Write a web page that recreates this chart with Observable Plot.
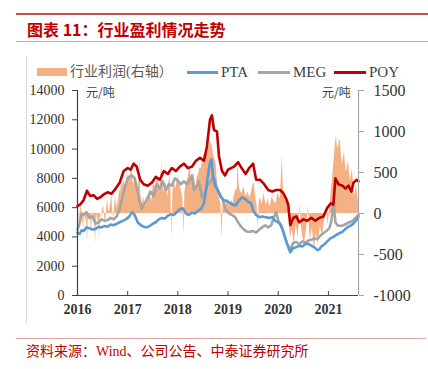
<!DOCTYPE html>
<html><head><meta charset="utf-8">
<script src="https://cdn.jsdelivr.net/npm/d3@7"></script>
<script src="https://cdn.jsdelivr.net/npm/@observablehq/plot@0.6"></script>
<style>
body{margin:0;background:#fff;}
#wrap{position:relative;width:428px;height:369px;overflow:hidden;font-family:"Liberation Serif","Noto Sans CJK SC",serif;}
.abs{position:absolute;white-space:nowrap;}
#chart{position:absolute;left:0;top:80px;}
</style></head><body>
<div id="wrap">
  <div class="abs" style="left:16px;top:13px;width:412px;height:2px;background:#c0504d"></div>
  <div class="abs" style="left:27px;top:19px;font-family:'Noto Sans CJK SC',sans-serif;font-weight:bold;font-size:16px;line-height:20px;color:#c00000">图表 11：行业盈利情况走势</div>
  <div class="abs" style="left:16px;top:41px;width:412px;height:1px;background:#e3a3a1"></div>
  <div class="abs" style="left:26px;top:57px;width:1px;height:266px;background:#d9d9d9"></div>
  <div id="chart"></div>
  <div id="legend"></div>
  <div class="abs" style="left:86px;top:85px;font-family:'Noto Sans CJK SC',sans-serif;font-size:12px;line-height:14px;color:#404040">元/吨</div>
  <div class="abs" style="left:322px;top:85px;font-family:'Noto Sans CJK SC',sans-serif;font-size:12px;line-height:14px;color:#404040">元/吨</div>
  <div class="abs" style="left:16px;top:338px;width:410px;height:1px;background:#e3a3a1"></div>
  <div class="abs" style="left:26px;top:343px;font-size:14px;line-height:18px;color:#c00000">资料来源：Wind、公司公告、中泰证券研究所</div>
</div>
<script>
// ---- data (decimal year, value) ----
const years = [2016, 2017, 2018, 2019, 2020, 2021];
const leftTicks = [0, 2000, 4000, 6000, 8000, 10000, 12000, 14000];
const rightTicks = [-1000, -500, 0, 500, 1000, 1500];
const seriesNames = ["行业利润(右轴）", "PTA", "MEG", "POY"];
const seriesColors = ["#F4B183", "#5B9BD5", "#A5A5A5", "#C00000"];

const profit = [
[2016.00,-80],[2016.02,60],[2016.04,-150],[2016.06,90],[2016.08,60],[2016.10,-60],[2016.12,-200],[2016.14,40],[2016.16,-120],[2016.18,-40],
[2016.20,-350],[2016.22,20],[2016.24,-100],[2016.26,-40],[2016.28,-250],[2016.30,30],[2016.32,-60],[2016.34,-20],[2016.36,-380],[2016.38,10],
[2016.40,-120],[2016.42,-40],[2016.44,-320],[2016.46,20],[2016.48,-60],[2016.50,40],[2016.52,100],[2016.54,-30],[2016.56,-150],[2016.58,60],
[2016.60,180],[2016.62,20],[2016.64,40],[2016.66,110],[2016.68,240],[2016.70,60],[2016.72,-80],[2016.74,90],[2016.76,200],[2016.78,70],
[2016.80,120],[2016.82,180],[2016.84,300],[2016.86,250],[2016.88,380],[2016.90,320],[2016.92,420],[2016.94,360],[2016.96,350],[2016.98,420],
[2017.00,480],[2017.02,380],[2017.04,420],[2017.06,500],[2017.08,600],[2017.10,420],[2017.12,350],[2017.14,400],[2017.16,450],[2017.18,300],
[2017.20,200],[2017.22,380],[2017.24,650],[2017.26,250],[2017.28,120],[2017.30,160],[2017.32,200],[2017.34,90],[2017.36,80],[2017.38,140],
[2017.40,180],[2017.42,240],[2017.44,300],[2017.46,200],[2017.48,150],[2017.50,300],[2017.52,420],[2017.54,330],[2017.56,350],[2017.58,400],
[2017.60,460],[2017.62,380],[2017.64,300],[2017.66,420],[2017.68,620],[2017.70,380],[2017.72,260],[2017.74,330],[2017.76,380],[2017.78,280],
[2017.80,200],[2017.82,350],[2017.84,480],[2017.86,300],[2017.88,-320],[2017.90,250],[2017.92,400],[2017.94,350],[2017.96,300],[2017.98,380],
[2018.00,450],[2018.02,400],[2018.04,380],[2018.06,300],[2018.08,250],[2018.10,200],[2018.12,-280],[2018.14,260],[2018.16,350],[2018.18,380],
[2018.20,420],[2018.22,500],[2018.24,600],[2018.26,450],[2018.28,380],[2018.30,440],[2018.32,500],[2018.34,400],[2018.36,320],[2018.38,420],
[2018.40,460],[2018.42,500],[2018.44,560],[2018.46,540],[2018.48,600],[2018.50,640],[2018.52,700],[2018.54,720],[2018.56,760],[2018.58,780],
[2018.60,800],[2018.62,820],[2018.64,880],[2018.66,860],[2018.68,840],[2018.70,760],[2018.72,700],[2018.74,660],[2018.76,620],[2018.78,450],
[2018.80,300],[2018.82,220],[2018.84,150],[2018.86,120],[2018.88,-330],[2018.90,150],[2018.92,200],[2018.94,120],[2018.96,100],[2018.98,160],
[2019.00,180],[2019.02,120],[2019.04,80],[2019.06,140],[2019.08,160],[2019.10,120],[2019.12,200],[2019.14,250],[2019.16,300],[2019.18,280],
[2019.20,650],[2019.22,350],[2019.24,280],[2019.26,260],[2019.28,240],[2019.30,300],[2019.32,320],[2019.34,260],[2019.36,200],[2019.38,240],
[2019.40,260],[2019.42,220],[2019.44,180],[2019.46,240],[2019.48,300],[2019.50,350],[2019.52,380],[2019.54,250],[2019.56,150],[2019.58,100],
[2019.60,-200],[2019.62,120],[2019.64,200],[2019.66,160],[2019.68,120],[2019.70,180],[2019.72,250],[2019.74,160],[2019.76,100],[2019.78,140],
[2019.80,180],[2019.82,120],[2019.84,80],[2019.86,150],[2019.88,200],[2019.90,170],[2019.92,150],[2019.94,130],[2019.96,120],[2019.98,200],
[2020.00,250],[2020.02,200],[2020.04,180],[2020.06,400],[2020.08,700],[2020.10,350],[2020.12,200],[2020.14,170],[2020.16,150],[2020.18,140],
[2020.20,120],[2020.22,20],[2020.24,-300],[2020.26,-250],[2020.28,-200],[2020.30,-280],[2020.32,-380],[2020.34,-250],[2020.36,-150],[2020.38,-220],
[2020.40,-300],[2020.42,-100],[2020.44,120],[2020.46,-150],[2020.48,-250],[2020.50,-320],[2020.52,-400],[2020.54,-300],[2020.56,-200],[2020.58,-100],
[2020.60,100],[2020.62,-150],[2020.64,-350],[2020.66,-250],[2020.68,-180],[2020.70,-300],[2020.72,-450],[2020.74,-350],[2020.76,-250],[2020.78,-300],
[2020.80,-380],[2020.82,-250],[2020.84,-150],[2020.86,-220],[2020.88,-300],[2020.90,-200],[2020.92,-100],[2020.94,-20],[2020.96,80],[2020.98,-50],
[2021.00,-150],[2021.02,20],[2021.04,150],[2021.06,300],[2021.08,400],[2021.10,550],[2021.12,700],[2021.14,850],[2021.16,950],[2021.18,820],
[2021.20,800],[2021.22,900],[2021.24,880],[2021.26,700],[2021.28,600],[2021.30,680],[2021.32,750],[2021.34,600],[2021.36,500],[2021.38,580],
[2021.40,650],[2021.42,500],[2021.44,400],[2021.46,480],[2021.48,550],[2021.50,350],[2021.52,200],[2021.54,280],[2021.56,350],[2021.58,220],
[2021.60,150]
];

const pta = [
[2016.00,4300],[2016.04,4200],[2016.08,4450],[2016.12,4400],[2016.18,4650],[2016.24,4600],[2016.30,4500],[2016.36,4550],[2016.42,4700],[2016.48,4650],
[2016.54,4750],[2016.60,4700],[2016.66,4850],[2016.72,4800],[2016.78,4900],[2016.84,5000],[2016.90,5100],[2016.96,5200],[2017.02,5350],[2017.09,5700],
[2017.14,5500],[2017.20,5000],[2017.26,4800],[2017.32,4700],[2017.38,4650],[2017.44,4750],[2017.50,4900],[2017.56,5000],[2017.62,5200],[2017.68,5300],
[2017.74,5250],[2017.80,5450],[2017.86,5550],[2017.92,5500],[2017.98,5700],[2018.04,5900],[2018.10,5950],[2018.16,5600],[2018.22,5500],[2018.28,5650],
[2018.34,5600],[2018.40,5800],[2018.46,5900],[2018.52,6300],[2018.56,7200],[2018.60,8200],[2018.64,9100],[2018.67,9300],[2018.70,8200],[2018.74,7500],
[2018.78,7300],[2018.82,7000],[2018.86,6700],[2018.92,6500],[2018.98,6450],[2019.04,6300],[2019.10,6200],[2019.15,6150],[2019.22,6500],[2019.28,6700],
[2019.34,6600],[2019.41,6370],[2019.46,6300],[2019.50,5800],[2019.56,5500],[2019.62,5350],[2019.68,5400],[2019.75,5350],[2019.82,5300],[2019.88,5350],
[2019.94,5100],[2020.00,5000],[2020.04,4850],[2020.08,4550],[2020.14,3900],[2020.20,3300],[2020.24,2950],[2020.30,3250],[2020.36,3300],[2020.42,3400],
[2020.48,3350],[2020.54,3500],[2020.60,3530],[2020.66,3400],[2020.72,3300],[2020.78,3100],[2020.82,3150],[2020.86,3350],[2020.92,3500],[2020.98,3700],
[2021.04,3900],[2021.10,4000],[2021.16,4150],[2021.22,4250],[2021.28,4350],[2021.34,4550],[2021.40,4700],[2021.46,4800],[2021.52,5000],[2021.58,5250],
[2021.60,5400]
];

const meg = [
[2016.00,4500],[2016.04,4900],[2016.08,5600],[2016.12,5500],[2016.18,5700],[2016.24,5300],[2016.30,5400],[2016.36,4900],[2016.42,5000],[2016.48,5200],
[2016.54,5100],[2016.60,5150],[2016.66,5300],[2016.72,5200],[2016.78,5400],[2016.84,5900],[2016.90,6800],[2016.96,7600],[2017.02,8100],[2017.08,8200],
[2017.14,8000],[2017.18,7400],[2017.22,6700],[2017.28,5900],[2017.34,6300],[2017.40,6700],[2017.46,7100],[2017.52,6800],[2017.58,7600],[2017.64,7300],
[2017.70,7800],[2017.76,7200],[2017.82,7600],[2017.88,7500],[2017.94,8000],[2018.00,7850],[2018.06,7600],[2018.12,7800],[2018.18,7600],[2018.24,7900],
[2018.28,8200],[2018.32,7200],[2018.38,7500],[2018.42,7800],[2018.48,6700],[2018.54,7000],[2018.60,7600],[2018.66,7800],[2018.70,8100],[2018.74,7900],
[2018.78,7300],[2018.84,6900],[2018.90,6500],[2018.96,5800],[2019.02,5600],[2019.08,5500],[2019.14,5350],[2019.20,5000],[2019.26,4700],[2019.32,4500],
[2019.38,4350],[2019.44,4350],[2019.50,4400],[2019.56,4300],[2019.62,4500],[2019.68,4650],[2019.74,4800],[2019.80,4650],[2019.86,4800],[2019.92,5400],
[2019.96,5700],[2020.00,5100],[2020.06,4800],[2020.12,4200],[2020.18,3500],[2020.24,3100],[2020.30,3600],[2020.36,3650],[2020.42,3500],[2020.48,3700],
[2020.54,3600],[2020.60,3750],[2020.66,3800],[2020.72,3900],[2020.78,3850],[2020.84,4100],[2020.90,4250],[2020.96,4400],[2021.02,4600],[2021.06,5100],
[2021.10,6400],[2021.14,5000],[2021.18,4800],[2021.24,4750],[2021.30,4800],[2021.36,4900],[2021.42,5000],[2021.48,5100],[2021.54,5300],[2021.60,5500]
];

const poy = [
[2016.00,6100],[2016.05,6200],[2016.12,6500],[2016.19,7150],[2016.25,6800],[2016.32,6850],[2016.39,6600],[2016.45,6700],[2016.52,6900],[2016.60,7050],
[2016.68,6950],[2016.76,7300],[2016.84,7700],[2016.92,8500],[2017.00,8700],[2017.06,8600],[2017.12,9000],[2017.18,8800],[2017.25,7900],[2017.32,7600],
[2017.40,7500],[2017.48,7700],[2017.56,8100],[2017.64,7900],[2017.72,8500],[2017.80,8300],[2017.88,8700],[2017.96,8500],[2018.04,8800],[2018.12,9000],
[2018.20,8700],[2018.28,8800],[2018.36,9200],[2018.44,9400],[2018.52,9200],[2018.58,10200],[2018.64,12000],[2018.68,12300],[2018.72,11300],[2018.78,11200],
[2018.82,9500],[2018.88,8500],[2018.94,8200],[2019.00,8600],[2019.06,8700],[2019.12,8800],[2019.20,9100],[2019.27,8700],[2019.35,8300],[2019.42,8700],
[2019.50,9000],[2019.56,7900],[2019.64,7900],[2019.72,7600],[2019.80,7200],[2019.88,7100],[2019.96,7200],[2020.04,7200],[2020.10,7000],[2020.16,6600],
[2020.20,6200],[2020.24,4800],[2020.30,5300],[2020.36,5400],[2020.42,5000],[2020.50,5200],[2020.58,5100],[2020.66,5300],[2020.74,5100],[2020.82,5300],
[2020.90,5400],[2020.98,6000],[2021.05,6300],[2021.10,6200],[2021.14,8000],[2021.20,7600],[2021.28,7500],[2021.34,7300],[2021.40,7500],[2021.46,7100],
[2021.50,7700],[2021.56,7900],[2021.60,7800]
];

// right axis (profit) mapped onto left scale: right [-1000,1500] -> left [0,14000]
const toLeft = r => (r + 1000) * 14000 / 2500;
const toRight = l => l * 2500 / 14000 - 1000;

const plot = Plot.plot({
  width: 428, height: 245,
  marginLeft: 77, marginRight: 70, marginTop: 10, marginBottom: 30,
  style: {background: "transparent", color: "#333", fontFamily: "Liberation Serif, serif"},
  x: {domain: [2016, 2021.6]},
  y: {domain: [0, 14000]},
  marks: [
    Plot.areaY(profit, {x: d => d[0], y1: toLeft(0), y2: d => toLeft(d[1]), fill: seriesColors[0], curve: "linear"}),
    Plot.line(meg, {x: d => d[0], y: d => d[1], stroke: seriesColors[2], strokeWidth: 2.6}),
    Plot.line(pta, {x: d => d[0], y: d => d[1], stroke: seriesColors[1], strokeWidth: 2.6}),
    Plot.line(poy, {x: d => d[0], y: d => d[1], stroke: seriesColors[3], strokeWidth: 2.6}),
    Plot.ruleX([2016], {stroke: "#404040", strokeWidth: 1.2}),
    Plot.ruleX([2021.6], {stroke: "#a6a6a6", strokeWidth: 1.2}),
    Plot.ruleY([0], {stroke: "#404040", strokeWidth: 1.2}),
    Plot.tickX(years.slice(1), {x: d => d, stroke: "#404040", insetTop: 201}),
    Plot.axisX(years, {anchor: "bottom", tickSize: 0, tickPadding: 9, tickFormat: d => String(d), fontSize: 14, fontWeight: "bold"}),
    Plot.axisY(leftTicks, {anchor: "left", tickSize: 5, tickPadding: 8, tickFormat: d => String(d), fontSize: 14, stroke: "#404040"}),
    Plot.axisY(rightTicks.map(toLeft), {anchor: "right", tickSize: 5, tickPadding: 10, tickFormat: d => String(Math.round(toRight(d))), fontSize: 16, stroke: "#a6a6a6"})
  ]
});
document.getElementById("chart").appendChild(plot);

// legend
const legend = document.getElementById("legend");
const items = [
  {name: seriesNames[0], color: seriesColors[0], type: "rect", sx: 37, sw: 30, tx: 70},
  {name: seriesNames[1], color: seriesColors[1], type: "line", sx: 187, sw: 31, tx: 221},
  {name: seriesNames[2], color: seriesColors[2], type: "line", sx: 258, sw: 32, tx: 293},
  {name: seriesNames[3], color: seriesColors[3], type: "line", sx: 334, sw: 32, tx: 369}
];
for (const it of items) {
  const sw = document.createElement("div");
  sw.className = "abs";
  sw.style.left = it.sx + "px";
  sw.style.width = it.sw + "px";
  if (it.type === "rect") { sw.style.top = "68px"; sw.style.height = "8px"; }
  else { sw.style.top = "71px"; sw.style.height = "3px"; }
  sw.style.background = it.color;
  legend.appendChild(sw);
  const t = document.createElement("div");
  t.className = "abs";
  t.style.left = it.tx + "px";
  t.style.top = "63px";
  t.style.fontSize = it.type === "rect" ? "14px" : "15px";
  t.style.lineHeight = "18px";
  t.style.color = it.type === "rect" ? "#595959" : "#404040";
  t.textContent = it.name;
  legend.appendChild(t);
}
</script>
</body></html>
